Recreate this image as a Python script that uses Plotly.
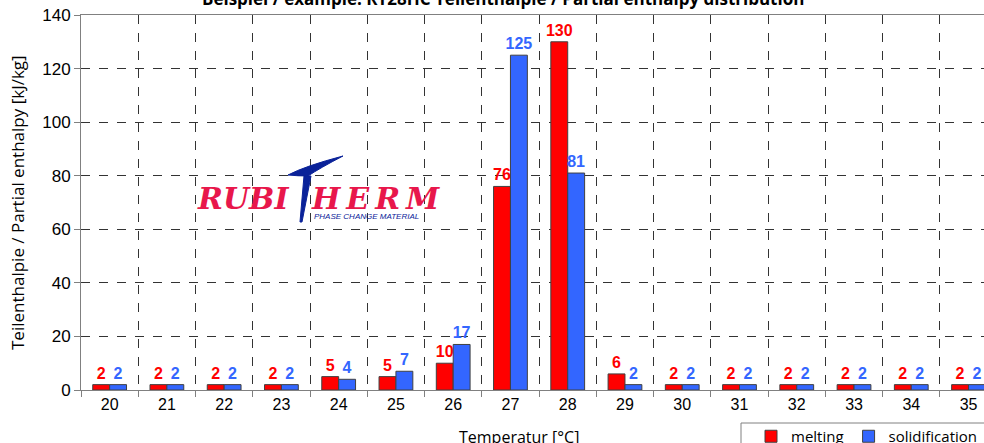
import plotly.graph_objects as go

temps = ["20", "21", "22", "23", "24", "25", "26", "27", "28", "29", "30", "31", "32", "33", "34", "35"]
melting = [2, 2, 2, 2, 5, 5, 10, 76, 130, 6, 2, 2, 2, 2, 2, 2]
solidification = [2, 2, 2, 2, 4, 7, 17, 125, 81, 2, 2, 2, 2, 2, 2, 2]

W, H = 984, 443
L, T, B = 81, 15, 390
PW = W - L
PH = B - T

def px(x):
    return (x - L) / PW

def py(y):
    return (B - y) / PH

RED = "#FF0000"
BLUE = "#3366FF"
LOGO_RED = "#E8174B"
LOGO_BLUE = "#0A2299"

fig = go.Figure()
fig.add_trace(go.Bar(
    x=temps, y=melting, name="melting",
    marker=dict(color=RED, line=dict(color="#404040", width=1)),
    text=[str(v) for v in melting], textposition="outside", constraintext="none",
    textfont=dict(family="Liberation Sans", size=16, color=RED, weight="bold"),
    cliponaxis=False,
))
fig.add_trace(go.Bar(
    x=temps, y=solidification, name="solidification",
    marker=dict(color=BLUE, line=dict(color="#404040", width=1)),
    text=[str(v) for v in solidification], textposition="outside", constraintext="none",
    textfont=dict(family="Liberation Sans", size=16, color=BLUE, weight="bold"),
    cliponaxis=False,
))

fig.update_layout(
    width=W, height=H,
    margin=dict(l=L, r=0, t=T, b=H - B, autoexpand=False),
    paper_bgcolor="white", plot_bgcolor="white",
    barmode="group", bargap=0.41, bargroupgap=0,
    font=dict(family="Liberation Sans", color="black"),
    showlegend=True,
    legend=dict(
        orientation="h", x=px(751), y=py(420), xanchor="left", yanchor="top",
        borderwidth=0, bgcolor="rgba(0,0,0,0)",
        font=dict(family="Open Sans", size=15, color="black"),
        itemwidth=30, traceorder="normal",
    ),
)

fig.update_xaxes(
    type="category", range=[-0.5, 15.27], automargin=False,
    tickson="boundaries", ticks="outside", ticklen=6, tickcolor="#808080",
    showgrid=True, gridcolor="#333333", griddash="dash", gridwidth=1,
    showline=True, linecolor="#808080", linewidth=1, mirror=True,
    tickfont=dict(family="Liberation Sans", size=16, color="black"),
    fixedrange=True,
)
fig.update_yaxes(
    range=[0, 140], dtick=20, automargin=False,
    ticks="outside", ticklen=6, tickcolor="#808080",
    showgrid=True, gridcolor="#333333", griddash="dash", gridwidth=1,
    showline=True, linecolor="#808080", linewidth=1,
    tickfont=dict(family="Liberation Sans", size=17, color="black"),
    zeroline=False, fixedrange=True,
)

# Axis titles
fig.add_annotation(
    text="Teilenthalpie / Partial enthalpy [kJ/kg]", textangle=-90,
    xref="paper", yref="paper", x=px(17), y=py(203), xanchor="center", yanchor="middle",
    showarrow=False, font=dict(family="Open Sans", size=17, color="black"),
)
fig.add_annotation(
    text="Temperatur [°C]",
    xref="paper", yref="paper", x=px(519), y=py(437), xanchor="center", yanchor="middle",
    showarrow=False, font=dict(family="Open Sans", size=16, color="black"),
)

# Legend frame
fig.add_shape(type="rect", xref="paper", yref="paper",
              x0=px(741), x1=px(1000), y0=py(423), y1=py(460),
              line=dict(color="#808080", width=1), fillcolor="rgba(0,0,0,0)", layer="below")

# Title (partially cut off at top)
fig.add_annotation(
    text="<b>Beispiel / example: RT28HC Teilenthalpie / Partial enthalpy distribution</b>",
    xref="paper", yref="paper", x=px(503), y=py(-2), xanchor="center", yanchor="middle",
    showarrow=False, font=dict(family="Open Sans", size=17, color="black"),
)

# Logo
fig.add_annotation(
    text="<b><i>RUBI</i></b>", xref="paper", yref="paper",
    x=px(291), y=py(198), xanchor="right", yanchor="middle", showarrow=False,
    font=dict(family="DejaVu Serif", size=30, color=LOGO_RED),
)
fig.add_annotation(
    text="<b><i>H\u2009E\u2009R\u2009M</i></b>", xref="paper", yref="paper",
    x=px(309), y=py(198), xanchor="left", yanchor="middle", showarrow=False,
    font=dict(family="DejaVu Serif", size=30, color=LOGO_RED),
)
fig.add_annotation(
    text="<i>PHASE CHANGE MATERIAL</i>", xref="paper", yref="paper",
    x=px(312), y=py(217), xanchor="left", yanchor="middle", showarrow=False,
    font=dict(family="Liberation Sans", size=8, color=LOGO_BLUE),
)

def P(x, y):
    return f"{px(x):.5f},{py(y):.5f}"

swoosh = (f"M {P(288,175)} Q {P(305,166)} {P(343,156)} "
          f"Q {P(320,168)} {P(308,176)} Q {P(298,176)} {P(288,175)} Z")
stem = (f"M {P(304,176)} L {P(311,176)} L {P(302,222)} L {P(300,222)} Z")
fig.add_shape(type="path", path=swoosh, xref="paper", yref="paper",
              fillcolor=LOGO_BLUE, line=dict(color=LOGO_BLUE, width=1))
fig.add_shape(type="path", path=stem, xref="paper", yref="paper",
              fillcolor=LOGO_BLUE, line=dict(color=LOGO_BLUE, width=1))

fig.write_html("out.html", config={"displayModeBar": False},
               post_script="document.body.style.margin='0px';document.body.style.overflow='hidden';")
